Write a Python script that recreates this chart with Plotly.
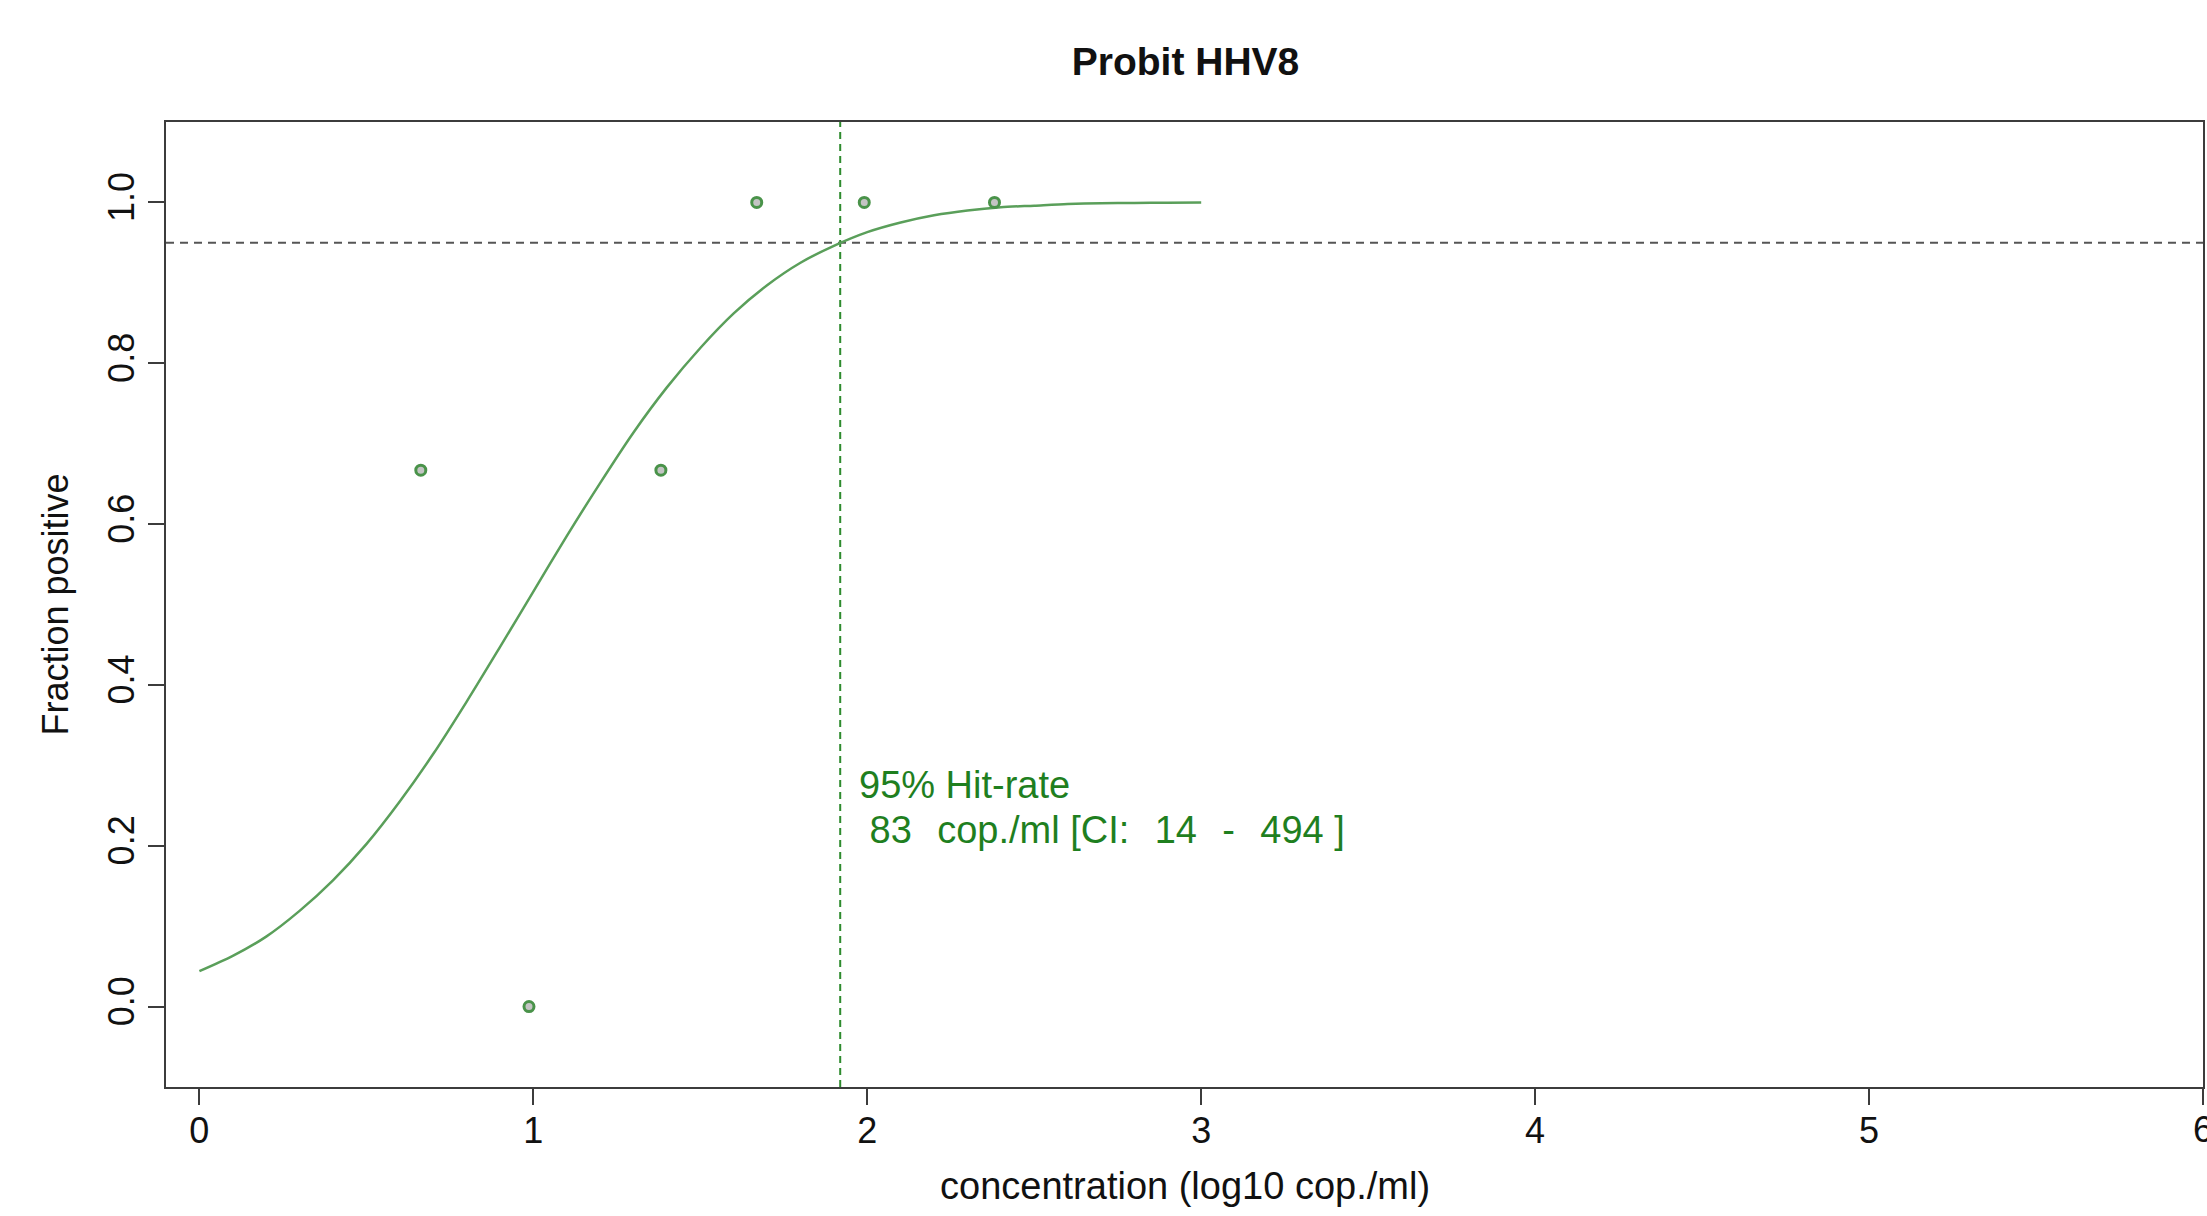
import plotly.graph_objects as go

# ---- data ----
conc_log10 = [0.663, 0.987, 1.382, 1.669, 1.991, 2.381]
fraction_positive = [0.667, 0.0, 0.667, 1.0, 1.0, 1.0]

fit_x = [0.0, 0.1, 0.2, 0.3, 0.4, 0.5, 0.6, 0.7, 0.8, 0.9, 1.0,
         1.1, 1.2, 1.3, 1.4, 1.5, 1.6, 1.7, 1.8, 1.9, 2.0,
         2.1, 2.2, 2.3, 2.4, 2.5, 2.6, 2.7, 2.8, 2.9, 3.0]
fit_y = [0.044, 0.063, 0.087, 0.119, 0.157, 0.202, 0.255, 0.314, 0.379, 0.447, 0.516,
         0.585, 0.651, 0.714, 0.770, 0.819, 0.862, 0.897, 0.925, 0.946, 0.963,
         0.975, 0.984, 0.990, 0.994, 0.996, 0.998, 0.999, 0.9993, 0.9996, 0.9998]

lod95_log10 = 1.919
hit_level = 0.95

x_ticks = [0, 1, 2, 3, 4, 5, 6]
y_ticks = [0.0, 0.2, 0.4, 0.6, 0.8, 1.0]
y_tick_labels = ["0.0", "0.2", "0.4", "0.6", "0.8", "1.0"]

title_text = "Probit HHV8"
x_title = "concentration (log10 cop./ml)"
y_title = "Fraction positive"
note_line1 = "95% Hit-rate"
SP2 = "\u2004\u2004"
note_line2 = "\u00a083" + SP2 + "cop./ml [CI:" + SP2 + "14" + SP2 + "-" + SP2 + "494\u00a0]"

FONT = "Liberation Sans, Arial, Helvetica, sans-serif"
AXIS_COL = "#3c3c3c"
CURVE_COL = "#5a9f5a"
TEXT_GREEN = "#1f7f1f"
VLINE_COL = "#2e8b2e"

W, H = 2207, 1216
ML, MR, MT, MB = 166, 2, 122, 129

fig = go.Figure()

fig.add_trace(go.Scatter(
    x=fit_x, y=fit_y, mode="lines",
    line=dict(color=CURVE_COL, width=2.5, shape="spline", smoothing=0.8),
    showlegend=False, hoverinfo="skip"))

fig.add_trace(go.Scatter(
    x=conc_log10, y=fraction_positive, mode="markers",
    marker=dict(size=10, color="#c4c4c4", line=dict(color="#4a934a", width=3)),
    showlegend=False))

# reference lines
fig.add_shape(type="line", xref="paper", yref="y", x0=0, x1=1, y0=hit_level, y1=hit_level,
              line=dict(color="#555555", width=2, dash="8px,6px"), layer="below")
fig.add_shape(type="line", xref="x", yref="paper", x0=lod95_log10, x1=lod95_log10, y0=0, y1=1,
              line=dict(color=VLINE_COL, width=2, dash="7px,5px"), layer="below")

ann_font = dict(family=FONT, size=38, color=TEXT_GREEN)
fig.add_annotation(x=1.97, y=0.276, xref="x", yref="y", text=note_line1, showarrow=False,
                   xanchor="left", yanchor="middle", font=ann_font)
fig.add_annotation(x=1.97, y=0.2195, xref="x", yref="y", text=note_line2, showarrow=False,
                   xanchor="left", yanchor="middle", font=ann_font)

# axis titles as annotations
fig.add_annotation(x=0.5, y=0, xref="paper", yref="paper", yshift=-(1186 - (H - MB)),
                   text=x_title, showarrow=False, xanchor="center", yanchor="middle",
                   font=dict(family=FONT, size=38, color="#111111"))
fig.add_annotation(x=0, y=0.5, xref="paper", yref="paper", xshift=-(ML - 55),
                   text=y_title, showarrow=False, textangle=-90, xanchor="center", yanchor="middle",
                   font=dict(family=FONT, size=36, color="#111111"))

# last x tick label, cut at the right edge as in the reference
fig.add_annotation(x=x_ticks[-1], y=0, xref="x", yref="paper", yshift=-(1129 - (H - MB)),
                   text=str(x_ticks[-1]), showarrow=False, xanchor="center", yanchor="middle",
                   font=dict(family=FONT, size=36, color="#111111"))

fig.update_layout(
    width=W, height=H,
    margin=dict(l=ML, r=MR, t=MT, b=MB, pad=0),
    paper_bgcolor="white", plot_bgcolor="white",
    title=dict(text="<b>" + title_text + "</b>", x=(ML + (W - MR - ML) / 2) / W, xanchor="center",
               y=1 - 61 / H, yanchor="middle", yref="container",
               font=dict(family=FONT, size=39, color="#111111")),
    font=dict(family=FONT, size=36, color="#111111"),
)

fig.update_xaxes(range=[-0.1, 6.0], tickvals=x_ticks, ticktext=[str(t) for t in x_ticks],
                 showgrid=False, zeroline=False, showline=True, mirror=True,
                 linecolor=AXIS_COL, linewidth=2, ticks="outside", ticklen=16, tickwidth=2,
                 tickcolor=AXIS_COL, ticklabelstandoff=-5,
                 tickfont=dict(family=FONT, size=36, color="#111111"))
fig.update_yaxes(range=[-0.1, 1.1], tickvals=y_ticks, ticktext=y_tick_labels, tickangle=-90,
                 showgrid=False, zeroline=False, showline=True, mirror=True,
                 linecolor=AXIS_COL, linewidth=2, ticks="outside", ticklen=16, tickwidth=2,
                 tickcolor=AXIS_COL, tickfont=dict(family=FONT, size=36, color="#111111"))

fig.write_html("out.html")
